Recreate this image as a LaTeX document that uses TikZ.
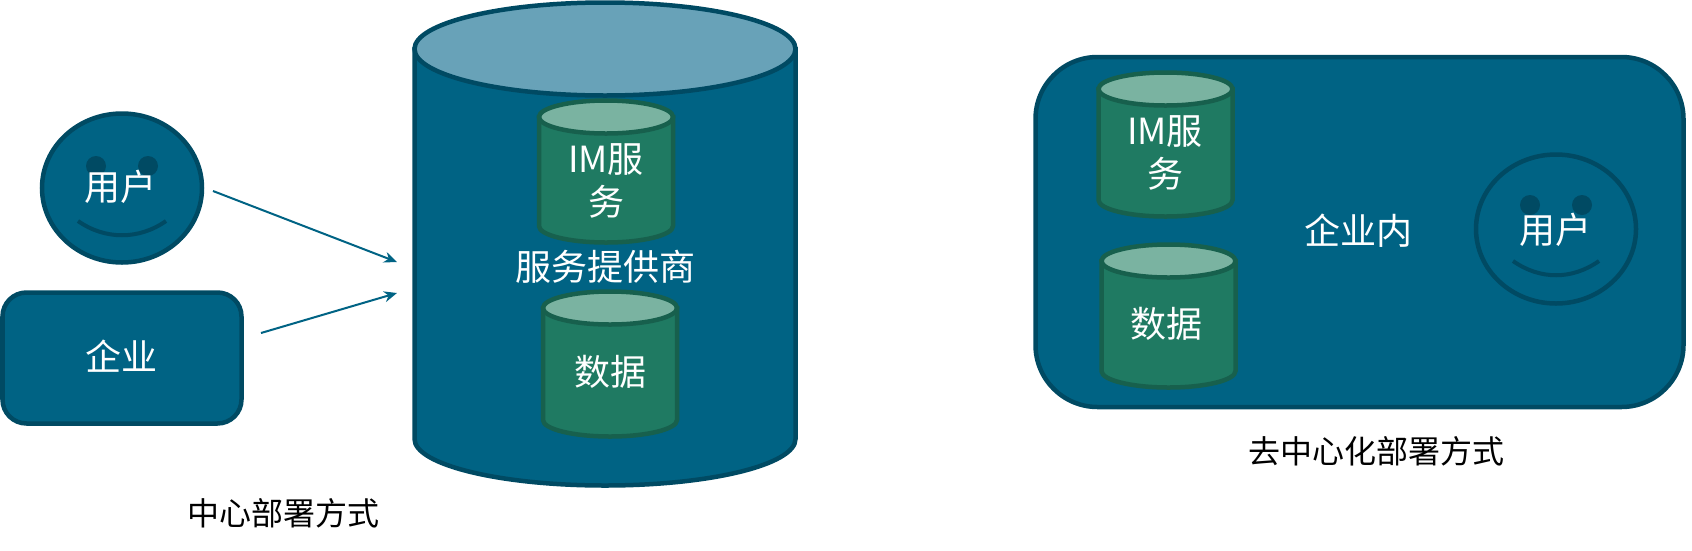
\documentclass[tikz,border=0pt]{standalone}
\usepackage{fontspec}
\setmainfont{Noto Sans CJK SC}
\usetikzlibrary{shapes.geometric,arrows.meta}
\definecolor{blueF}{HTML}{006384}
\definecolor{blueD}{HTML}{004A63}
\definecolor{blueT}{HTML}{68A2B8}
\definecolor{greenF}{HTML}{1F7A62}
\definecolor{greenD}{HTML}{17604D}
\definecolor{greenT}{HTML}{7AB3A1}
\tikzset{
  x=1pt,y=-1pt,
  bluebody/.style={fill=blueF,draw=blueD,line width=4.5pt},
  bluetop/.style={fill=blueT,draw=blueD,line width=4.5pt},
  greenbody/.style={fill=greenF,draw=greenD,line width=4.5pt},
  greentop/.style={fill=greenT,draw=greenD,line width=4.5pt},
  lab/.style={text=white,font=\fontsize{36}{43}\selectfont,align=center,inner sep=0pt},
  captext/.style={text=black,font=\fontsize{32}{38}\selectfont,inner sep=0pt},
  faceshape/.style={ellipse,minimum width=160pt,minimum height=149pt,inner sep=0pt,bluebody},
  eye/.style={circle,minimum size=20pt,inner sep=0pt,fill=blueD,draw=none},
  smile/.style={draw=blueD,line width=4pt,fill=none},
  boxshape/.style={rectangle,rounded corners=#1,inner sep=0pt,bluebody},
  flow/.style={draw=blueF,line width=2pt,-{Stealth[length=13pt,width=11pt]}}
}
% cx, top of ellipse centre y, bottom side y, rx, ry, body style, top style
\newcommand{\cylinderdraw}[7]{%
  \path[#6] (#1-#4,#2) -- (#1-#4,#3) arc[start angle=180,end angle=360,x radius=#4,y radius=-#5] -- (#1+#4,#2) -- cycle;
  \path[#7] (#1,#2) ellipse[x radius=#4,y radius=#5];
}
\begin{document}
\begin{tikzpicture}
\useasboundingbox (0,0) rectangle (1692,550);
% large cylinder
\cylinderdraw{605}{49}{439}{190.5}{46.5}{bluebody}{bluetop}
\cylinderdraw{606}{117}{226}{67}{16.5}{greenbody}{greentop}
\cylinderdraw{610}{308}{420}{67}{16.5}{greenbody}{greentop}
\node[lab] (im1) at (606,181) {IM服\\务};
\node[lab] (provider) at (605,267) {服务提供商};
\node[lab] (data1) at (610,372) {数据};
\node[captext] (cap1) at (283,513) {中心部署方式};
% user face
\node[faceshape] (face1) at (122,188) {};
\node[eye] (eye1a) at (96,166) {};
\node[eye] (eye1b) at (148,166) {};
\draw[smile] (78,221) .. controls (105,240) and (139,240) .. (166,221);
\node[lab] (user1) at (120,187) {用户};
% enterprise
\node[boxshape=24pt,minimum width=239pt,minimum height=131pt] (ent) at (122,358) {};
\node[lab] (entlab) at (121,356) {企业};
% arrows
\coordinate (arrowa) at (213,191);
\coordinate (arrowb) at (397,262);
\coordinate (arrowc) at (261,333);
\coordinate (arrowd) at (397,293);
\draw[flow] (arrowa) -- (arrowb);
\draw[flow] (arrowc) -- (arrowd);
% right panel
\node[boxshape=62pt,minimum width=648pt,minimum height=350pt] (panel) at (1359.5,232) {};
\cylinderdraw{1165.5}{89}{200}{67}{16.5}{greenbody}{greentop}
\cylinderdraw{1168.5}{261}{371}{67}{16.5}{greenbody}{greentop}
\node[lab] (im2) at (1165,153) {IM服\\务};
\node[lab] (data2) at (1166,324) {数据};
\node[lab] (inner) at (1358,231) {企业内};
\node[faceshape] (face2) at (1556,229) {};
\node[eye] (eye2a) at (1530,205) {};
\node[eye] (eye2b) at (1582,205) {};
\draw[smile] (1513,261) .. controls (1540,280) and (1572,280) .. (1599,261);
\node[lab] (user2) at (1555,230) {用户};
\node[captext] (cap2) at (1376,451) {去中心化部署方式};
\end{tikzpicture}
\end{document}
